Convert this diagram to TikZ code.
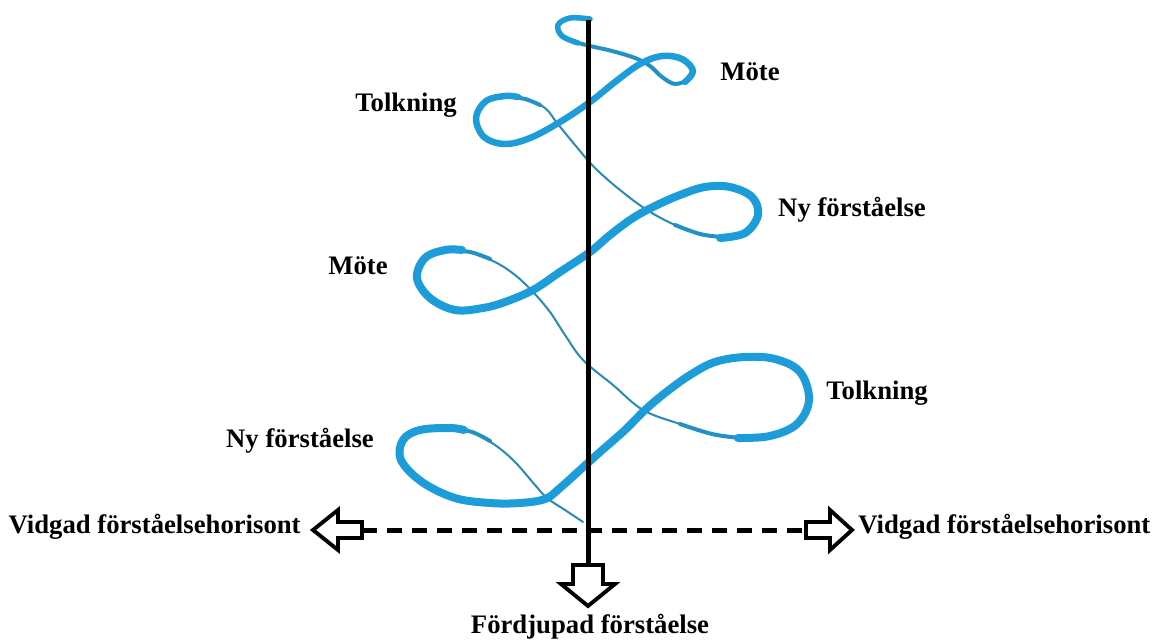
\documentclass[tikz,border=0pt]{standalone}
\usepackage{fontspec}
\setmainfont{Liberation Serif}
\usetikzlibrary{calc}
\definecolor{spiralblue}{RGB}{28,156,216}
\definecolor{backblue}{RGB}{40,138,182}
\tikzset{
  front strand/.style={spiralblue, line width=0.16cm, line cap=round, line join=round},
  mid strand/.style={backblue!60!spiralblue, line width=0.08cm, line cap=round, line join=round},
  back strand/.style={backblue, line width=0.04cm, line cap=round, line join=round},
  block arrow/.style={draw=black, fill=white, line width=2.2pt, line join=miter},
  spiral label/.style={font=\fontsize{15.2}{17}\selectfont\bfseries, inner sep=0pt}
}

\begin{document}
\begin{tikzpicture}[x=0.02cm, y=-0.02cm]

  \useasboundingbox (0,0) rectangle (1162,641);

  \coordinate (top) at (588,20);
  \coordinate (down) at (588,565);
  \coordinate (west) at (362,530);
  \coordinate (east) at (806,530);

  % back strands
  \draw[back strand] plot[smooth, tension=0.6] coordinates {(525,98) (545,108) (557,123) (575,145) (595,168) (620,190) (647,210) (675,225) (700,234)};
  \draw[back strand] plot[smooth, tension=0.6] coordinates {(470,252) (495,262) (515,275) (533,292) (550,312) (565,335) (583,360) (613,385) (643,410) (680,424) (712,434)};
  \draw[back strand] plot[smooth, tension=0.6] coordinates {(472,432) (495,445) (515,462) (535,485) (547,498) (565,510) (583,522)};

  % top loop
  \draw[mid strand] plot[smooth, tension=0.6] coordinates {(575,42) (590,46) (612,51) (635,58) (650,66) (662,77) (675,84) (688,80)};
  \draw[front strand, line width=0.11cm] plot[smooth, tension=0.6] coordinates {(590,19) (570,18) (558,25) (562,36) (578,43)};

  % tapering ends
  \draw[mid strand] plot[smooth, tension=0.6] coordinates {(505,96) (525,99) (540,105)};
  \draw[mid strand] plot[smooth, tension=0.6] coordinates {(675,225) (700,234) (722,237)};
  \draw[mid strand] plot[smooth, tension=0.6] coordinates {(445,250) (470,252) (490,259)};
  \draw[mid strand] plot[smooth, tension=0.6] coordinates {(680,424) (712,434) (740,438)};
  \draw[mid strand] plot[smooth, tension=0.6] coordinates {(450,428) (472,432) (490,441)};

  % front strands
  \draw[front strand, line width=0.13cm] plot[smooth, tension=0.6] coordinates {(685,82) (693,71) (682,59) (662,56) (640,64) (615,82) (590,102) (560,122) (530,138) (505,144) (484,137) (476,118) (486,101) (505,96) (518,97)};
  \draw[front strand] plot[smooth, tension=0.6] coordinates {(720,238) (745,233) (758,215) (752,197) (730,187) (705,187) (680,195) (655,206) (633,218) (610,235) (590,252) (560,272) (533,290) (505,302) (483,308) (455,310) (430,298) (417,278) (425,258) (445,250) (462,250)};
  \draw[front strand] plot[smooth, tension=0.6] coordinates {(738,438) (770,436) (797,424) (809,400) (800,372) (775,359) (745,357) (715,362) (690,375) (665,393) (645,410) (625,430) (600,452) (580,470) (560,488) (545,499) (520,503) (490,503) (455,498) (422,482) (401,460) (403,440) (420,430) (450,428) (464,430)};

  % axes
  \draw[line width=0.1cm] (top) -- (down);
  \draw[line width=0.1cm, dash pattern=on 0.3cm off 0.2cm] (west) -- (east);

  % block arrows
  \draw[block arrow] (down) -- ++(15,0) -- ++(0,19) -- ++(12,0) -- (588,606) -- (561,584) -- ++(12,0) -- ++(0,-19) -- cycle;
  \draw[block arrow] (west) -- ++(0,-8) -- ++(-24,0) -- ++(0,-12) -- (313,530) -- (338,550) -- ++(0,-12) -- ++(24,0) -- cycle;
  \draw[block arrow] (east) -- ++(0,-8) -- ++(24,0) -- ++(0,-12) -- (852,530) -- (830,550) -- ++(0,-12) -- ++(-24,0) -- cycle;

  % labels
  \node[spiral label] (mote1) at (750,72) {Möte};
  \node[spiral label] (tolk1) at (406,105) {Tolkning};
  \node[spiral label] (ny1) at (852,210) {Ny förståelse};
  \node[spiral label] (mote2) at (358,266) {Möte};
  \node[spiral label] (tolk2) at (877,393) {Tolkning};
  \node[spiral label] (ny2) at (300,441) {Ny förståelse};
  \node[spiral label, anchor=east] (vidgadL) at (301,527) {Vidgad förståelsehorisont};
  \node[spiral label, anchor=west] (vidgadR) at (858,527) {Vidgad förståelsehorisont};
  \node[spiral label] (fordjupad) at (590,627) {Fördjupad förståelse};

\end{tikzpicture}
\end{document}
